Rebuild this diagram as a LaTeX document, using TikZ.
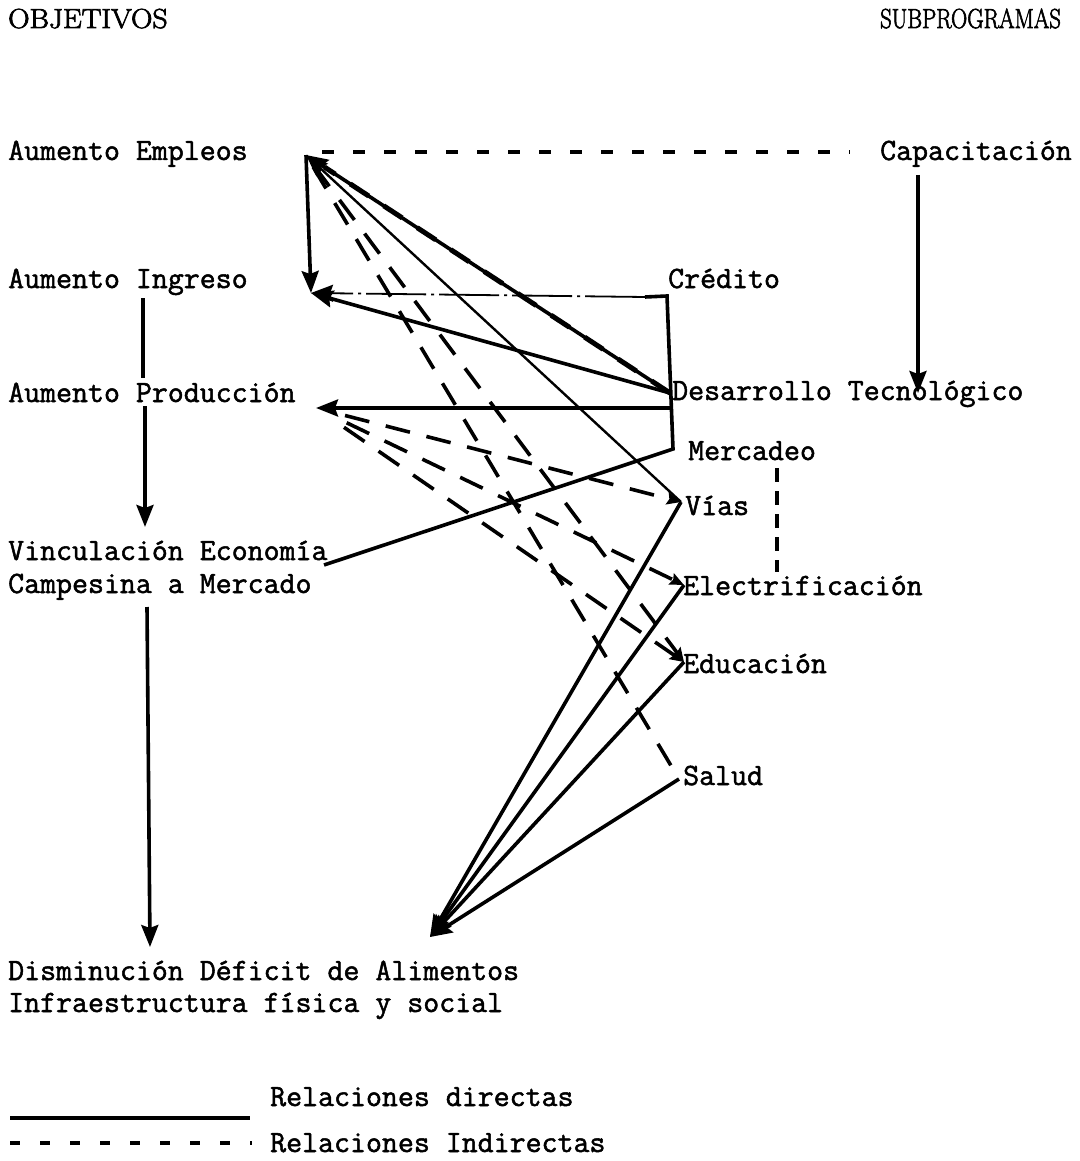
\documentclass[tikz,border=0pt]{standalone}
\usepackage{fontspec}
\newfontfamily\typewriter{Latin Modern Mono}[FakeBold=1.6]
\newfontfamily\headfont{Latin Modern Roman}[FakeBold=2.6]
\usetikzlibrary{arrows.meta}
\begin{document}
\begin{tikzpicture}[x=1pt,y=-1pt,
  lbl/.style={anchor=base west,inner sep=0pt,font=\fontsize{31}{36}\typewriter},
  head/.style={anchor=base west,inner sep=0pt,font=\fontsize{27.5}{32}\headfont},
  direct/.style={line width=3.6pt},
  thindirect/.style={line width=2.4pt},
  indirect/.style={line width=3.6pt,dash pattern=on 25pt off 17pt},
  shortdash/.style={line width=3.6pt,dash pattern=on 12pt off 19pt},
  creditline/.style={line width=1.8pt,dash pattern=on 60pt off 5pt on 3pt off 5pt},
  bigtip/.style={-{Stealth[length=22pt,width=17pt,inset=3pt]}},
  smalltip/.style={-{Stealth[length=14pt,width=12pt,inset=2pt]}},
]
\useasboundingbox (0,0) rectangle (1079,1161);
\fill[white] (0,0) rectangle (1079,1161);

% column headings
\node[head] (obj) at (8,28) {\scalebox{1.08}[1]{OBJETIVOS}};
\node[head] (sub) at (880,28) {\scalebox{0.82}[1]{SUBPROGRAMAS}};

% objectives
\node[lbl] (empleos) at (8,160) {Aumento Empleos};
\node[lbl] (ingreso) at (8,288) {Aumento Ingreso};
\node[lbl] (produccion) at (8,402) {Aumento Producción};
\node[lbl] (vinc) at (8,560) {Vinculación Economía};
\node[lbl] (vincb) at (8,593) {Campesina a Mercado};
\node[lbl] (dis) at (8,980) {Disminución Déficit de Alimentos};
\node[lbl] (disb) at (8,1012) {Infraestructura física y social};

% subprograms
\node[lbl] (cap) at (880,160) {Capacitación};
\node[lbl] (cred) at (668,288) {Crédito};
\node[lbl] (des) at (672,400) {Desarrollo Tecnológico};
\node[lbl] (mer) at (688,460) {Mercadeo};
\node[lbl] (vias) at (685,515) {Vías};
\node[lbl] (elec) at (683,595) {Electrificación};
\node[lbl] (edu) at (683,673) {Educación};
\node[lbl] (sal) at (683,785) {Salud};

% legend
\node[lbl] (leg1) at (270,1106) {Relaciones directas};
\node[lbl] (leg2) at (270,1152) {Relaciones Indirectas};
\coordinate (l1a) at (10,1118);  \coordinate (l1b) at (250,1118);
\coordinate (l2a) at (10,1143);  \coordinate (l2b) at (252,1143);

% connection points
\coordinate (pE) at (306,155);
\coordinate (pI) at (311,293);
\coordinate (pP) at (316,408);
\coordinate (pV) at (324,565);
\coordinate (pD) at (430,937);
\coordinate (cTop) at (645,297);
\coordinate (cCorner) at (667,296);
\coordinate (pDes) at (670,393);
\coordinate (pProdOut) at (671,408);
\coordinate (pMer) at (673,449);
\coordinate (pVias) at (681,502);
\coordinate (pElec) at (684,585);
\coordinate (pEdu) at (684,662);
\coordinate (pSal) at (679,779);
\coordinate (capB) at (918,175);
\coordinate (desT) at (918,393);
\coordinate (ingB) at (143,298);
\coordinate (prodT) at (143,378);
\coordinate (prodB) at (145,406);
\coordinate (vincT) at (145,527);
\coordinate (vincB) at (147,607);
\coordinate (disT) at (150,947);
\coordinate (empR) at (322,152);
\coordinate (capL) at (850,152);
\coordinate (merB) at (777,468);
\coordinate (elecT) at (777,572);

% direct relations
\draw[direct,bigtip] (pE) -- (pI);
\draw[direct,bigtip] (pDes) -- (pE);
\draw[line width=5pt,dash pattern=on 22pt off 18pt,shorten >=22pt] (pDes) -- (pE);
\draw[direct,bigtip] (pDes) -- (pI);
\draw[direct,line join=miter] (cTop) -- (cCorner) -- (pMer) -- (pV);
\draw[direct,bigtip] (pProdOut) -- (pP);
\draw[thindirect,bigtip] (pVias) -- (pE);
\draw[direct,bigtip] (pVias) -- (pD);
\draw[direct,bigtip] (pElec) -- (pD);
\draw[direct,bigtip] (pEdu) -- (pD);
\draw[direct,bigtip] (pSal) -- (pD);
\draw[direct,bigtip] (capB) -- (desT);
\draw[direct] (ingB) -- (prodT);
\draw[direct,bigtip] (prodB) -- (vincT);
\draw[direct,bigtip] (vincB) -- (disT);

% indirect relations
\draw[shortdash] (empR) -- (capL);
\draw[creditline,bigtip] (cTop) -- (pI);
\draw[indirect,shorten <=14pt] (pE) -- (pSal);
\draw[indirect,smalltip,shorten <=14pt] (pE) -- (pEdu);
\draw[indirect,smalltip,shorten <=30pt] (pP) -- (pVias);
\draw[indirect,smalltip,shorten <=34pt] (pP) -- (pElec);
\draw[indirect,smalltip,shorten <=34pt] (pP) -- (pEdu);
\draw[line width=3.6pt,dash pattern=on 14pt off 9pt] (merB) -- (elecT);

% legend lines
\draw[direct] (l1a) -- (l1b);
\draw[shortdash,dash pattern=on 10pt off 20pt] (l2a) -- (l2b);
\end{tikzpicture}
\end{document}
